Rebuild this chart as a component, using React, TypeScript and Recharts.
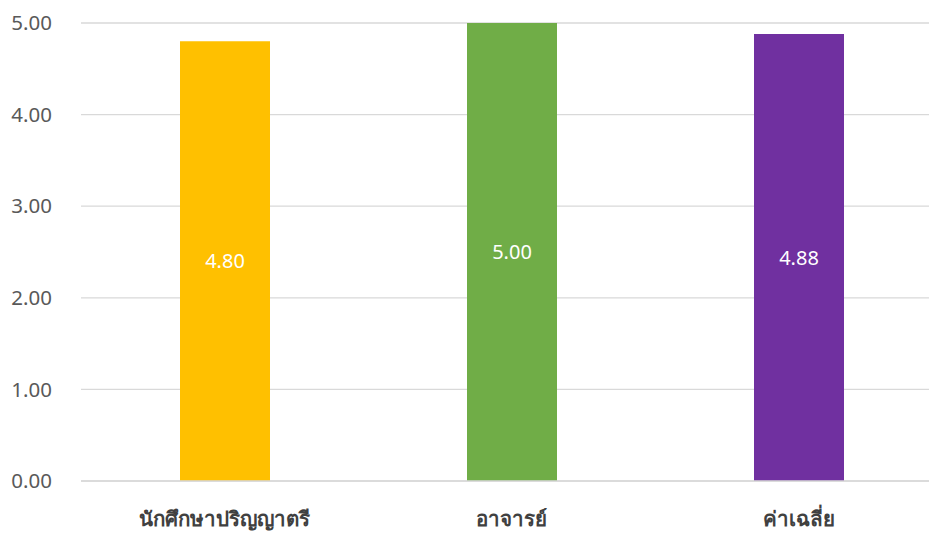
import React from 'react';
import { BarChart, Bar, XAxis, YAxis, CartesianGrid, Cell, LabelList } from 'recharts';

const categories = ['นักศึกษาปริญญาตรี', 'อาจารย์', 'ค่าเฉลี่ย'];
const scores = [4.8, 5.0, 4.88];
const barColors = ['#FFC000', '#70AD47', '#7030A0'];
const yTicks = [0, 1, 2, 3, 4, 5];

const data = categories.map((name, i) => ({ name, value: scores[i] }));

// the plot area in the original runs past the right edge of the picture,
// hence the negative right margin
const App: React.FC = () => {
  return (
    <div
      style={{
        position: 'absolute',
        top: 0,
        left: 0,
        width: 929,
        height: 535,
        overflow: 'hidden',
        fontFamily: '"Noto Sans", sans-serif',
      }}
    >
      <BarChart width={929} height={535} data={data} margin={{ top: 23, right: -13, bottom: 0, left: 0 }}>
        <CartesianGrid vertical={false} stroke="#d9d9d9" strokeWidth={1.3} />
        <XAxis
          dataKey="name"
          axisLine={{ stroke: '#d9d9d9', strokeWidth: 1.3 }}
          tickLine={false}
          tickSize={0}
          tickMargin={30}
          height={54}
          tick={{ fill: '#404040', fontSize: 20.5, fontWeight: 'bold' }}
        />
        <YAxis
          domain={[0, 5]}
          ticks={yTicks}
          width={81}
          axisLine={false}
          tickLine={false}
          tickSize={0}
          tickMargin={29}
          tickFormatter={(v: number) => v.toFixed(2)}
          tick={{ fill: '#595959', fontSize: 20.5 }}
        />
        <Bar dataKey="value" barSize={90} isAnimationActive={false}>
          {data.map((d, i) => (
            <Cell key={d.name} fill={barColors[i]} />
          ))}
          <LabelList
            dataKey="value"
            position="center"
            fill="#ffffff"
            fontSize={20}
            formatter={(v: number) => Number(v).toFixed(2)}
          />
        </Bar>
      </BarChart>
    </div>
  );
};

export default App;
